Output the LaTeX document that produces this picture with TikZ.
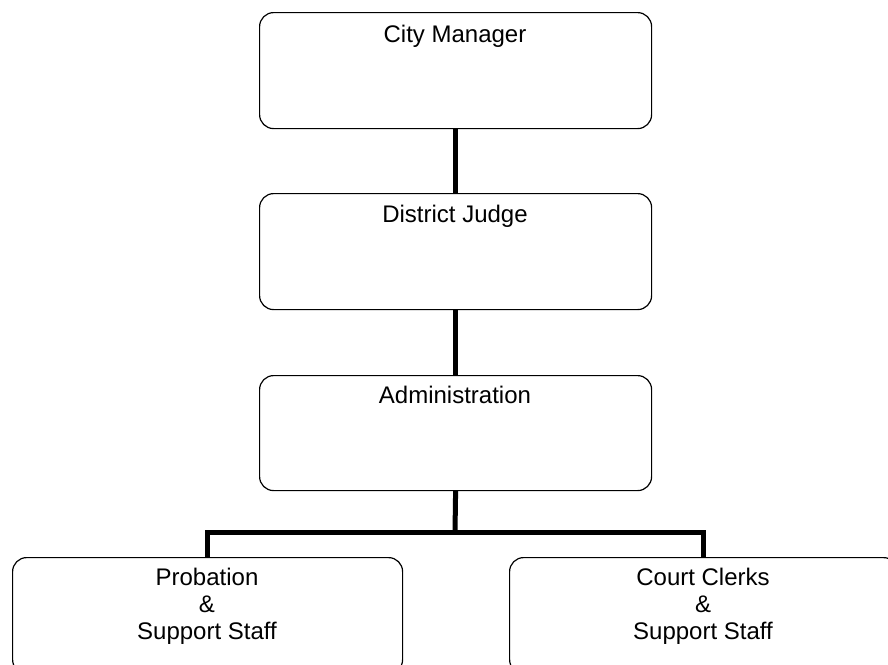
\documentclass[tikz,border=0pt]{standalone}
\usepackage{fontspec}
\setmainfont{Liberation Sans}
\begin{document}
\begin{tikzpicture}[x=1pt,y=-1pt,
  box/.style={draw, line width=1.2pt, rounded corners=14pt, minimum width=392pt, minimum height=116pt, anchor=north west, inner sep=0pt},
  lbl/.style={font=\fontsize{24}{27}\selectfont, align=center, anchor=base, inner sep=0pt},
  conn/.style={line width=5pt}]
\useasboundingbox (0,0) rectangle (888,664);
\node[box] (cm) at (259,12) {};
\node[box] (dj) at (259,193) {};
\node[box, minimum height=115pt] (ad) at (259,375) {};
\node[box, minimum width=390pt] (prob) at (12,557) {};
\node[box, minimum width=388pt] (cc) at (509,557) {};
\node[lbl] (cmt) at (455,42) {City Manager};
\node[lbl] (djt) at (455,222) {District Judge};
\node[lbl] (adt) at (455,403) {Administration};
\node[lbl] (probt) at (207,639) {Probation\\\&\\Support Staff};
\node[lbl] (cct) at (703,639) {Court Clerks\\\&\\Support Staff};
\coordinate (bar) at (455,532);
\draw[conn] (cm.south) -- (dj.north);
\draw[conn] (dj.south) -- (ad.north);
\draw[conn] (ad.south) -- (bar);
\draw[conn] (prob.north) |- (bar) -| (cc.north);
\end{tikzpicture}
\end{document}
